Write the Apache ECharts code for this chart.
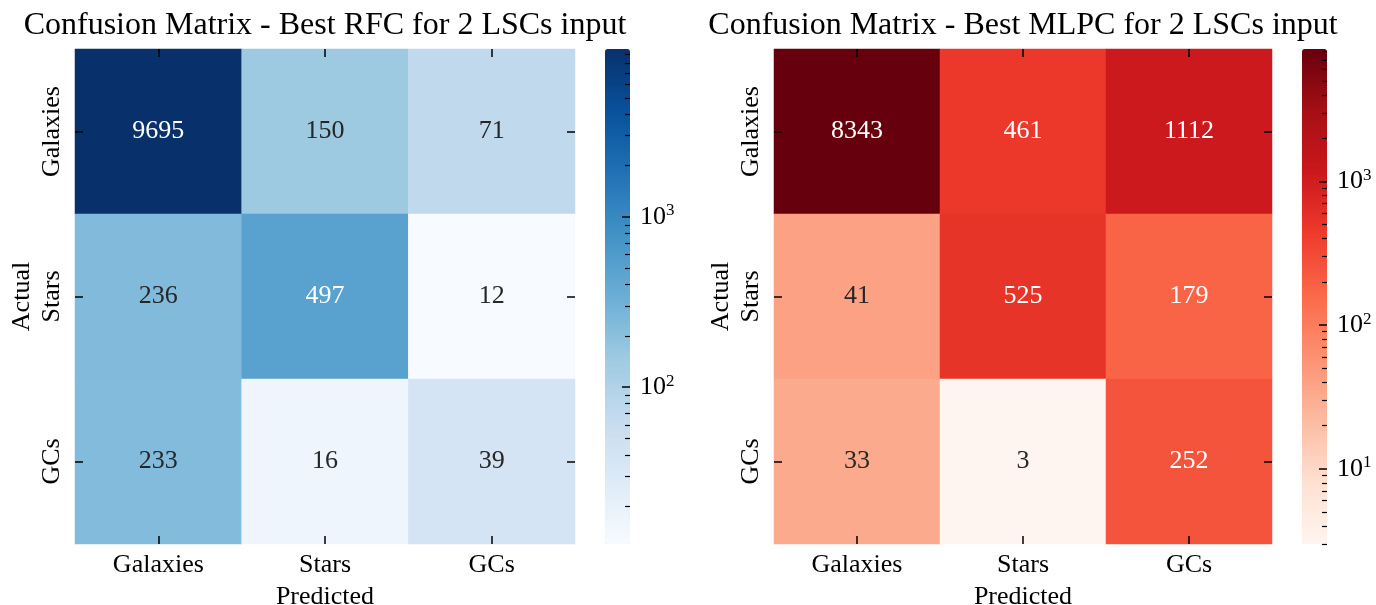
<!DOCTYPE html>
<html><head><meta charset="utf-8">
<script src="https://cdn.jsdelivr.net/npm/echarts@6/dist/echarts.min.js"></script>
<style>html,body{margin:0;padding:0;background:#fff}#c{width:1376px;height:605px}</style>
</head><body><div id="c"></div>
<script>
// ---- data ----
const classes = ['Galaxies', 'Stars', 'GCs'];
const rfcMatrix = [[9695, 150, 71], [236, 497, 12], [233, 16, 39]];
const mlpcMatrix = [[8343, 461, 1112], [41, 525, 179], [33, 3, 252]];
const rfcTitle = 'Confusion Matrix - Best RFC for 2 LSCs input';
const mlpcTitle = 'Confusion Matrix - Best MLPC for 2 LSCs input';
const xLabel = 'Predicted';
const yLabel = 'Actual';
const rfcColorbarMajor = [100, 1000];
const mlpcColorbarMajor = [10, 100, 1000];
const blues = ['#f7fbff','#deebf7','#c6dbef','#9ecae1','#6baed6','#4292c6','#2171b5','#08519c','#08306b'];
const reds = ['#fff5f0','#fee0d2','#fcbba1','#fc9272','#fb6a4a','#ef3b2c','#cb181d','#a50f15','#67000d'];

const FONT = 'Liberation Serif, Times New Roman, serif';
const FS = 26;

function hex2rgb(h){return [1,3,5].map(i=>parseInt(h.substr(i,2),16));}
function cmap(colors, t){
  t = Math.max(0, Math.min(1, t));
  const n = colors.length - 1, p = t * n, i = Math.min(Math.floor(p), n - 1), f = p - i;
  const a = hex2rgb(colors[i]), b = hex2rgb(colors[i+1]);
  return a.map((v,k)=>v + (b[k]-v)*f);
}
function lum(rgb){
  const c = rgb.map(v=>{v/=255; return v <= 0.03928 ? v/12.92 : Math.pow((v+0.055)/1.055, 2.4);});
  return 0.2126*c[0] + 0.7152*c[1] + 0.0722*c[2];
}
function build(m, colors){
  const flat = m.flat();
  const lmin = Math.log10(Math.min(...flat)), lmax = Math.log10(Math.max(...flat));
  const data = [];
  m.forEach((row,i)=>row.forEach((v,j)=>{
    const lv = Math.log10(v);
    const rgb = cmap(colors, (lv - lmin)/(lmax - lmin));
    data.push({value:[j, i, lv, v], label:{color: lum(rgb) > 0.408 ? '#262626' : '#ffffff'}});
  }));
  return {data, lmin, lmax};
}
function minorTicks(lmin, lmax){
  const out = [];
  for (let d = Math.floor(lmin) - 1; d <= Math.ceil(lmax); d++)
    for (let k = 2; k <= 9; k++){ const l = d + Math.log10(k); if (l >= lmin - 1e-9 && l <= lmax + 1e-9) out.push(l); }
  return out;
}
const A = build(rfcMatrix, blues), B = build(mlpcMatrix, reds);

const tickStyle = {color:'#000', width:1.5};
const lblStyle = {fontFamily: FONT, fontSize: FS, color:'#000'};
const gb = {outerBoundsMode:'none', containLabel:false};
const grids = [
  Object.assign({left:75, top:49, width:500, height:495}, gb),   // 0 heatmap RFC
  Object.assign({left:605, top:49, width:25, height:495}, gb),   // 1 colorbar RFC major
  Object.assign({left:605, top:49, width:25, height:495}, gb),   // 2 colorbar RFC minor
  Object.assign({left:774, top:49, width:498, height:495}, gb),  // 3 heatmap MLPC
  Object.assign({left:1302, top:49, width:25, height:495}, gb),  // 4 colorbar MLPC major
  Object.assign({left:1302, top:49, width:25, height:495}, gb)   // 5 colorbar MLPC minor
];
const xAxes = [], yAxes = [];
function heatAxes(g){
  const base = {gridIndex:g, type:'category', data:classes, z:10, axisLine:{show:false, onZero:false}, splitLine:{show:false},
    axisTick:{show:true, inside:true, alignWithLabel:true, length:8, lineStyle:tickStyle}};
  xAxes.push(Object.assign({}, base, {position:'bottom', axisLabel:Object.assign({margin:8}, lblStyle),
    name:xLabel, nameLocation:'middle', nameGap:40, nameTextStyle:lblStyle}));
  xAxes.push(Object.assign({}, base, {position:'top', axisLabel:{show:false}}));
  yAxes.push(Object.assign({}, base, {position:'left', inverse:true, axisLabel:Object.assign({margin:10, rotate:90}, lblStyle),
    name:yLabel, nameLocation:'middle', nameGap:40, nameRotate:90, nameTextStyle:lblStyle}));
  yAxes.push(Object.assign({}, base, {position:'right', inverse:true, axisLabel:{show:false}}));
}
function cbAxes(g, lmin, lmax, majors){
  const majorL = majors.map(v=>Math.log10(v));
  xAxes.push({gridIndex:g, type:'value', show:false, min:0, max:1});
  yAxes.push({gridIndex:g, type:'value', z:10, min:lmin, max:lmax, position:'right', axisLine:{show:false, onZero:false}, splitLine:{show:false},
    axisTick:{show:true, inside:true, length:8, customValues:majorL, lineStyle:tickStyle},
    axisLabel:{customValues:majorL, margin:10, formatter:v=>'{b|10}{s|'+Math.round(v)+'}',
      rich:{b:{fontFamily:FONT, fontSize:FS, color:'#000'}, s:{fontFamily:FONT, fontSize:17, color:'#000', verticalAlign:'top', padding:[0,0,12,0]}}}});
  xAxes.push({gridIndex:g+1, type:'value', show:false, min:0, max:1});
  yAxes.push({gridIndex:g+1, type:'value', z:10, min:lmin, max:lmax, position:'right', axisLine:{show:false, onZero:false}, splitLine:{show:false},
    axisTick:{show:true, inside:true, length:5, customValues:minorTicks(lmin, lmax), lineStyle:{color:'#000', width:1.2}},
    axisLabel:{show:false}});
}
heatAxes(0);            // x0,x1 / y0,y1
cbAxes(1, A.lmin, A.lmax, rfcColorbarMajor);   // x2,x3 / y2,y3
heatAxes(3);            // x4,x5 / y4,y5
cbAxes(4, B.lmin, B.lmax, mlpcColorbarMajor);  // x6,x7 / y6,y7

const cellLabel = {show:true, fontFamily:FONT, fontSize:FS, formatter:p=>String(p.data.value[3])};
const titleStyle = {fontFamily:FONT, fontSize:32, fontWeight:'normal', color:'#000'};
const option = {
  animation:false,
  backgroundColor:'#fff',
  title:[
    {text:rfcTitle, left:325, top:10, textAlign:'center', padding:0, textStyle:titleStyle},
    {text:mlpcTitle, left:1023, top:10, textAlign:'center', padding:0, textStyle:titleStyle}
  ],
  grid:grids,
  xAxis:xAxes,
  yAxis:yAxes,
  visualMap:[
    {type:'continuous', seriesIndex:0, dimension:2, min:A.lmin, max:A.lmax, inRange:{color:blues}, z:1,
      orient:'vertical', left:605, top:49, itemWidth:25, itemHeight:495, padding:0, calculable:false, text:null, showLabel:false, hoverLink:false},
    {type:'continuous', seriesIndex:1, dimension:2, min:B.lmin, max:B.lmax, inRange:{color:reds}, z:1,
      orient:'vertical', left:1302, top:49, itemWidth:25, itemHeight:495, padding:0, calculable:false, text:null, showLabel:false, hoverLink:false}
  ],
  series:[
    {type:'heatmap', xAxisIndex:0, yAxisIndex:0, data:A.data, label:cellLabel, emphasis:{disabled:true}, itemStyle:{borderWidth:0}, z:2},
    {type:'heatmap', xAxisIndex:4, yAxisIndex:4, data:B.data, label:cellLabel, emphasis:{disabled:true}, itemStyle:{borderWidth:0}, z:2}
  ]
};
echarts.init(document.getElementById('c'), null, {renderer:'canvas'}).setOption(option);
</script></body></html>
